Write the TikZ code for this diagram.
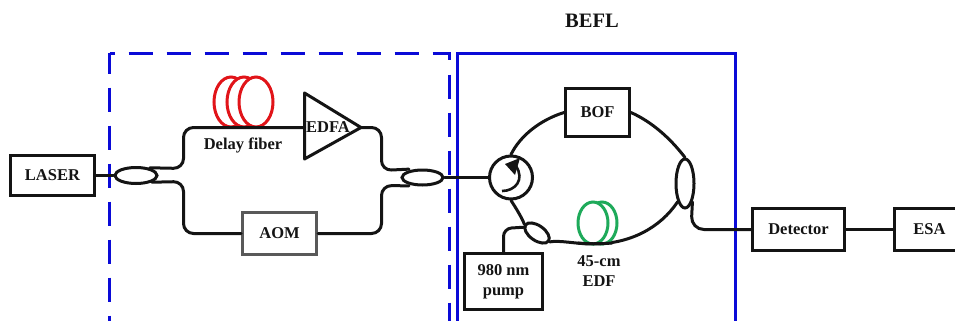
\documentclass[tikz,border=0pt]{standalone}
\usepackage{fontspec}
\setmainfont{Liberation Serif}
\usetikzlibrary{shapes.geometric,calc}
\definecolor{frameblue}{RGB}{10,10,215}
\definecolor{redcoil}{RGB}{225,20,25}
\definecolor{greencoil}{RGB}{30,170,90}
\definecolor{inkblack}{RGB}{20,20,20}
\tikzset{
 x=1pt,y=-1pt,
 labeltext/.style={font=\fontsize{16.5}{20}\selectfont\bfseries,text=inkblack,align=center,inner sep=0pt},
 boxnode/.style={draw=inkblack,line width=3pt,fill=white,inner sep=0pt,labeltext},
 fiber/.style={draw=inkblack,line width=3pt,line cap=round},
 couplernode/.style={ellipse,draw=inkblack,line width=3pt,fill=white,inner sep=0pt},
 coil/.style={line width=3pt,fill=white},
 frameline/.style={frameblue,line width=3pt},
}
\begin{document}
\begin{tikzpicture}
\useasboundingbox (0,0) rectangle (955,321);
% frames
\draw[frameline,dash pattern=on 24pt off 14pt,dash phase=4pt] (109.5,53.5) -- (109.5,322);
\draw[frameline,dash pattern=on 24pt off 14pt,dash phase=19pt] (109.5,53.5) -- (449.5,53.5) -- (449.5,322);
\draw[frameline] (457.5,322) -- (457.5,53.5) -- (735.5,53.5) -- (735.5,322);
\node[labeltext,font=\fontsize{20.5}{22}\selectfont\bfseries] (befl) at (592,21) {BEFL};
% boxes
\node[boxnode,minimum width=84pt,minimum height=40pt] (laser) at (52.5,175.5) {LASER};
\node[boxnode,draw=black!65,minimum width=74pt,minimum height=42pt] (aom) at (279.5,233.5) {AOM};
\node[boxnode,minimum width=64pt,minimum height=48pt] (bof) at (597.5,112.5) {BOF};
\node[boxnode,minimum width=78pt,minimum height=56pt] (pump) at (503.5,281.5) {980 nm\\pump};
\node[boxnode,minimum width=92pt,minimum height=42pt] (det) at (798.5,229.5) {Detector};
\node[boxnode,minimum width=70pt,minimum height=42pt] (esa) at (929.5,229.5) {ESA};
% coils behind fibre
\foreach \cx in {231,244,256} \draw[redcoil,coil] (\cx,102) ellipse (17 and 25);
\node[labeltext] (delay) at (243,145) {Delay fiber};
% EDFA
\coordinate (ampA) at (304.5,93);
\coordinate (ampB) at (304.5,159);
\coordinate (ampC) at (361,127.5);
\draw[inkblack,line width=3pt,line join=round,fill=white] (ampA) -- (ampC) -- (ampB) -- cycle;
\node[labeltext] (edfa) at (328,127) {EDFA};
% couplers
\node[couplernode,minimum width=42pt,minimum height=16pt] (c1) at (136,175.5) {};
\node[couplernode,minimum width=41pt,minimum height=15pt] (c2) at (422.5,177.5) {};
\node[couplernode,minimum width=18pt,minimum height=49pt] (c3) at (685,183.5) {};
\node[couplernode,rotate=-35,minimum width=28pt,minimum height=15pt] (c4) at (537,233) {};
\node[circle,draw=inkblack,line width=3pt,minimum size=43pt,inner sep=0pt] (circ) at (511,177.5) {};
% connectors
\draw[fiber] (laser.east) -- (c1.west);
\draw[fiber,rounded corners=10pt] ($(c1.north east)+(-2,-1)$) -- (183.5,168.5) -- (183.5,127.5) -- (ampA|-ampC);
\draw[fiber,rounded corners=10pt] (c1.south east) -- (183.5,181.5) -- (183.5,233.5) -- (aom.west);
\draw[fiber,rounded corners=10pt] (ampC) -- (381.5,127.5) -- (381.5,170.5) -- ($(c2.north west)+(2,-2)$);
\draw[fiber,rounded corners=10pt] (aom.east) -- (381.5,233.5) -- (381.5,185.5) -- ($(c2.south west)+(2,2)$);
\draw[fiber] (c2.east) -- (circ.west);
\draw[fiber] (circ.north) .. controls (520,136) and (540,120) .. (bof.west);
\draw[fiber] (bof.east) .. controls (652,122) and (670,138) .. (c3.north);
\draw[fiber] (circ.south) .. controls (516,208) and (522,218) .. (c4.west);
\draw[fiber] (c4.east) .. controls (560,240) and (576,244) .. (593,244) .. controls (630,244) and (660,228) .. (c3.south west);
\draw[fiber,rounded corners=8pt] ($(c4.west)+(1,3)$) -- (503.5,228.5) -- (pump.north);
\draw[fiber,rounded corners=13pt] (c3.south east) -- (691,229.5) -- (det.west);
\draw[fiber] (det.east) -- (esa.west);
% EDF coil
\foreach \cx in {602,593} \draw[greencoil,coil] (\cx,223) ellipse (15 and 21);
\draw[fiber] (578,243) .. controls (585,244) and (601,244) .. (612,243);
\node[labeltext] (edf) at (599,271.5) {45-cm\\EDF};
% circulator arrow
\draw[inkblack,line width=2.6pt] (502,191) .. controls (515,191) and (525,180) .. (516,166);
\fill[inkblack] (505,164) -- (520,158) -- (515,175) -- cycle;
\end{tikzpicture}
\end{document}
